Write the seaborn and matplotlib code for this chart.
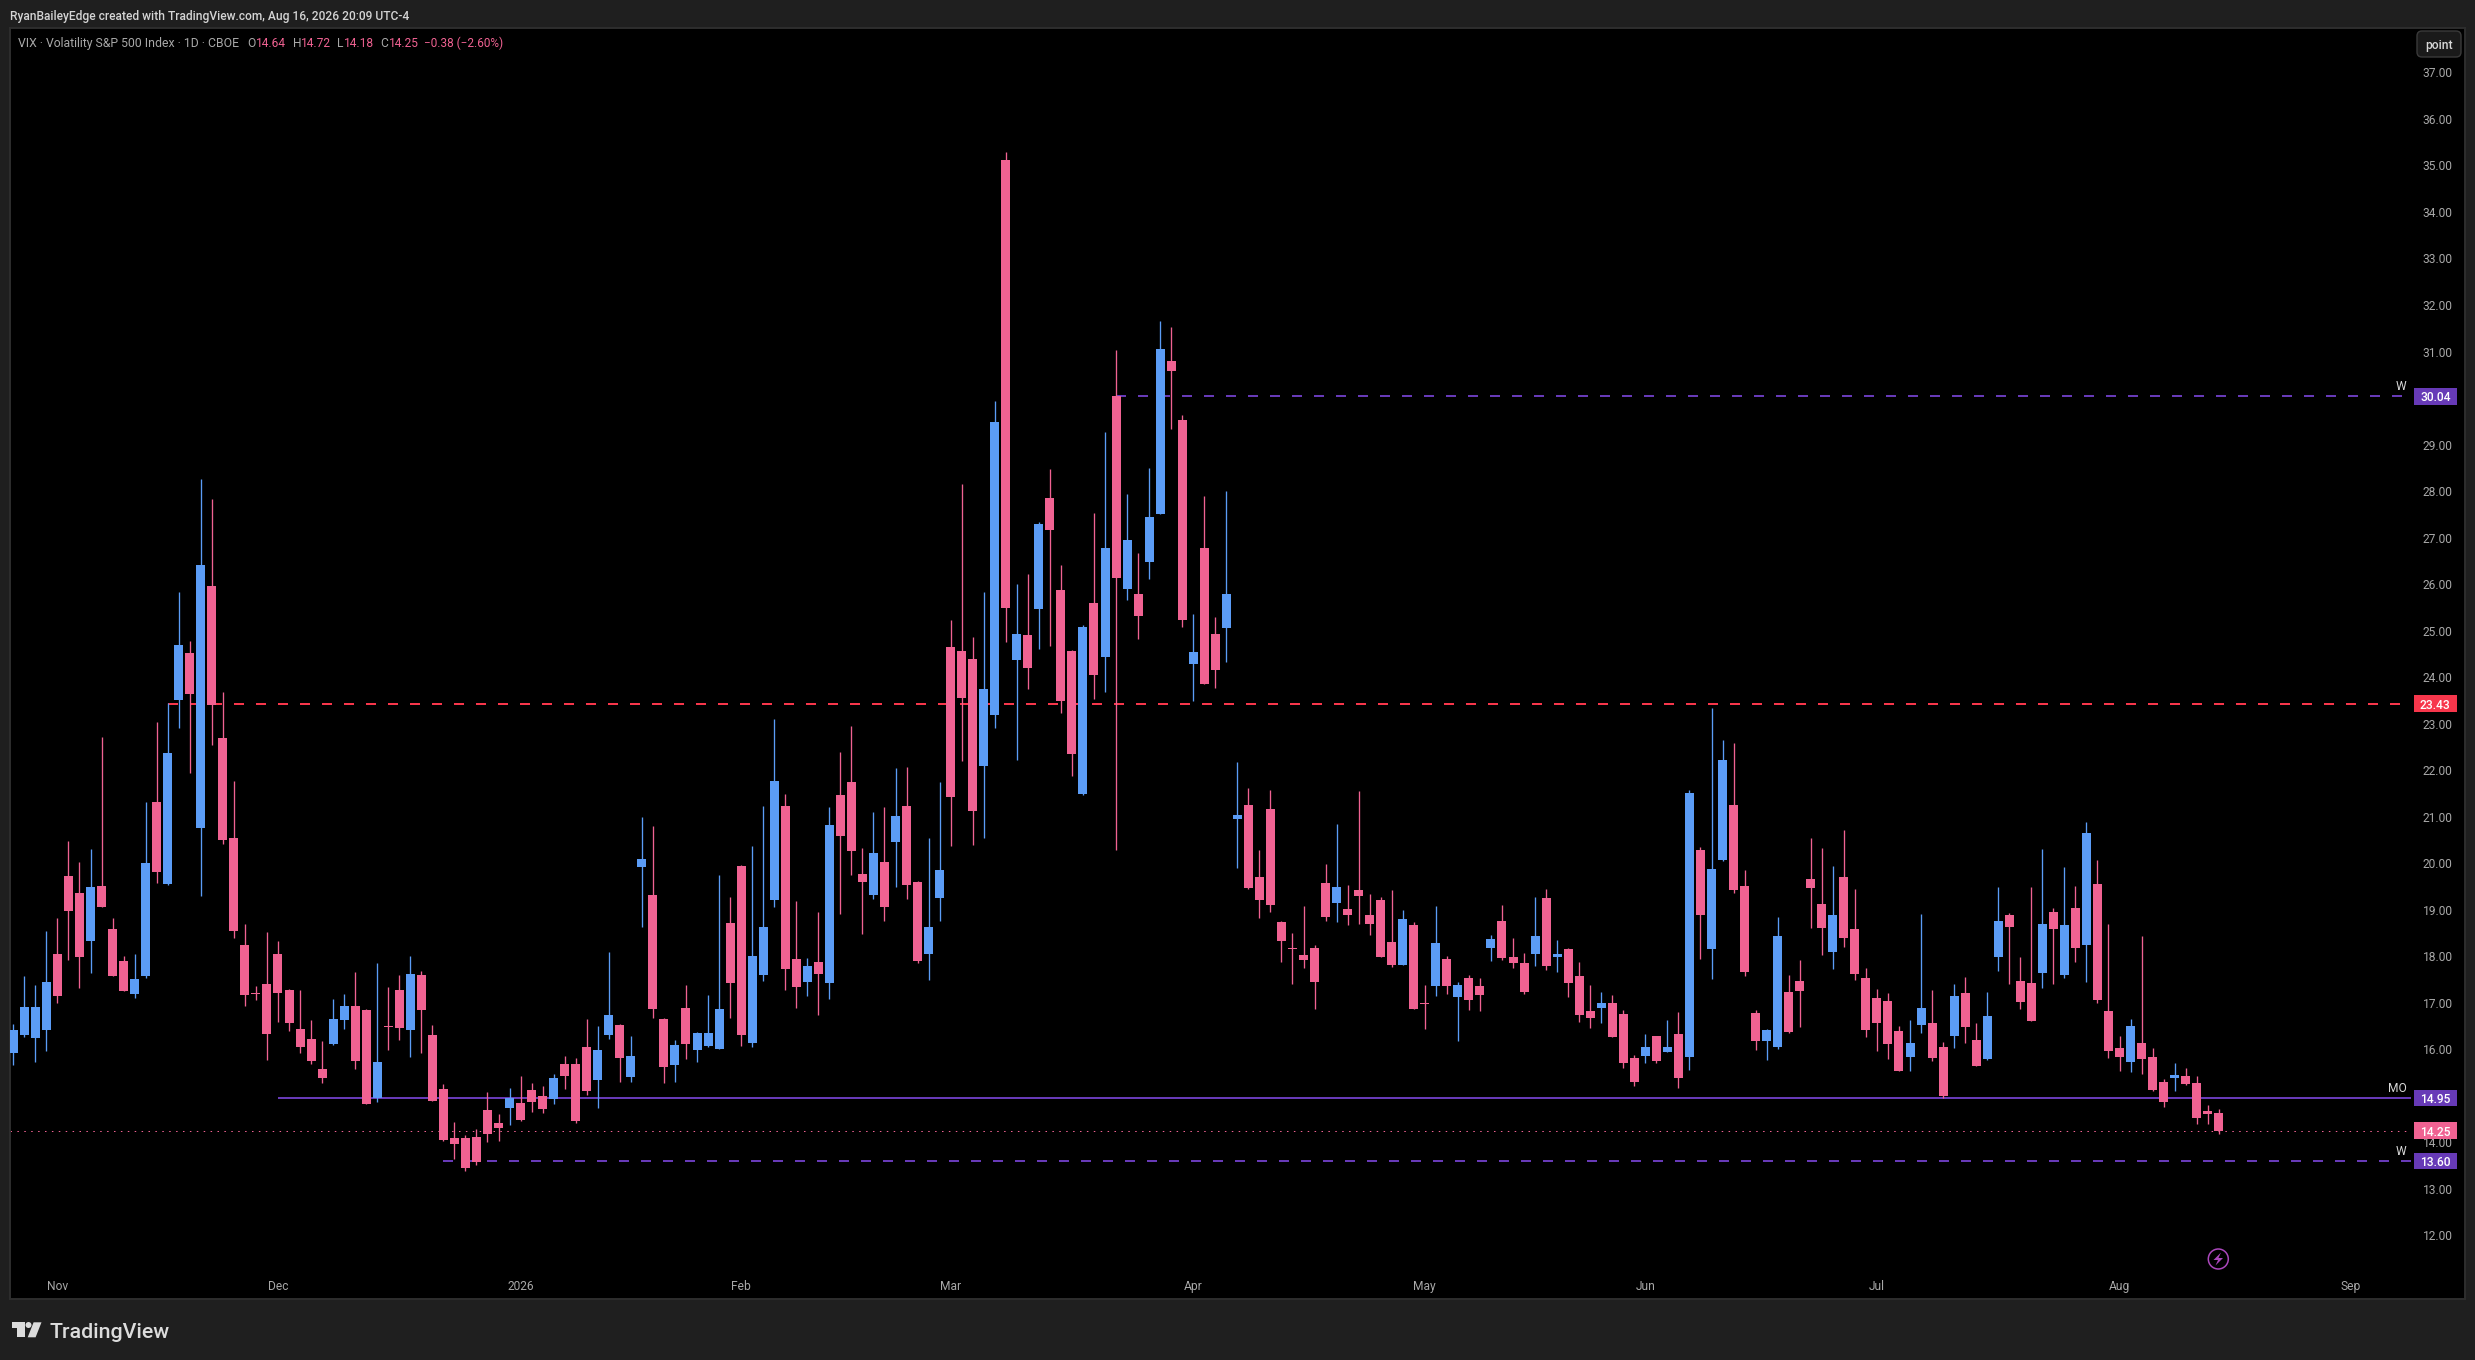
import numpy as np
import pandas as pd
import seaborn as sns
import matplotlib
matplotlib.use("Agg")
import matplotlib.pyplot as plt
from matplotlib.patches import Circle, Polygon, Rectangle, FancyBboxPatch
from matplotlib.transforms import Affine2D, blended_transform_factory

# daily VIX candles
opens = [
    15.93,16.31,16.24,16.41,18.05,19.72,19.36,18.33,19.50,18.59,
    17.90,17.19,17.58,21.32,19.56,23.51,24.52,20.76,25.95,22.69,
    20.54,18.24,17.21,17.40,18.05,17.28,16.43,16.22,15.58,16.11,
    16.63,16.93,16.85,14.96,16.50,17.28,16.41,17.60,16.31,15.15,
    14.10,14.10,14.12,14.69,14.41,14.73,14.85,15.13,15.00,14.93,
    15.69,15.69,16.05,15.34,16.31,16.52,15.41,19.92,19.32,16.65,
    15.66,16.89,15.98,16.07,16.01,18.72,19.94,16.14,17.60,19.21,
    21.23,17.94,17.45,17.88,17.43,21.47,21.74,19.77,19.32,20.03,
    20.46,21.23,19.60,18.05,19.25,24.65,24.56,24.39,22.08,23.19,
    35.12,24.36,24.91,25.46,27.85,25.88,24.56,21.49,25.60,24.43,
    30.04,25.90,25.78,26.47,27.50,30.79,29.52,24.28,26.77,24.93,
    25.05,20.95,21.25,19.70,21.17,18.74,18.18,18.03,18.18,19.58,
    19.15,19.02,19.42,18.89,19.21,18.31,17.81,18.67,17.00,17.36,
    17.94,17.12,17.53,17.36,18.18,18.76,17.98,17.86,18.05,19.25,
    17.98,18.16,17.58,16.82,16.89,17.00,16.76,15.81,15.86,16.29,
    15.94,16.33,15.84,20.28,18.16,20.07,21.25,19.51,16.78,16.18,
    16.05,17.23,17.47,19.66,19.12,18.09,19.70,18.59,17.53,17.10,
    17.04,16.39,15.84,16.52,16.57,16.05,16.29,17.21,16.20,15.79,
    17.98,18.89,17.47,17.43,17.64,18.95,17.60,19.04,18.24,19.55,
    16.82,16.03,15.73,16.14,15.84,15.30,15.38,15.43,15.28,14.67,14.64,
]
closes = [
    16.41,16.91,16.91,17.44,17.15,18.97,17.98,19.48,19.06,17.58,
    17.25,17.52,20.00,19.81,22.37,24.69,23.64,26.41,23.40,20.50,
    18.55,17.17,17.18,16.33,17.21,16.57,16.05,15.74,15.38,16.65,
    16.93,15.74,14.83,15.72,16.48,16.45,17.62,16.85,14.89,14.05,
    13.96,13.45,13.58,14.18,14.30,14.95,14.48,14.87,14.72,15.38,
    15.43,14.46,15.10,15.98,16.74,15.81,15.86,20.09,16.87,15.62,
    16.09,16.11,16.35,16.35,16.87,17.43,16.31,18.01,18.63,21.77,
    17.73,17.34,17.79,17.62,20.82,20.59,20.26,19.60,20.22,19.06,
    21.02,19.53,17.90,18.63,19.85,21.43,23.55,21.12,23.74,29.48,
    25.48,24.93,24.20,27.29,27.16,23.49,22.34,25.07,24.04,26.77,
    26.13,26.95,25.31,27.44,31.05,30.58,25.23,24.55,23.85,24.16,
    25.78,21.04,19.47,19.21,19.10,18.33,18.16,17.92,17.45,18.84,
    19.49,18.89,19.30,18.69,17.98,17.81,18.80,16.87,16.97,18.29,
    17.36,17.38,17.06,17.17,18.37,17.96,17.86,17.23,18.44,17.79,
    18.05,17.43,16.74,16.67,17.00,16.27,15.71,15.30,16.05,15.75,
    16.05,15.38,21.51,18.89,19.88,22.22,19.42,17.66,16.18,16.42,
    18.44,16.37,17.25,19.47,18.61,18.89,18.39,17.62,16.42,16.57,
    16.11,15.53,16.14,16.89,15.81,14.99,17.15,16.48,15.64,16.72,
    18.76,18.63,17.02,16.61,18.69,18.58,18.67,18.18,20.65,17.06,
    15.96,15.84,16.50,15.79,15.13,14.87,15.45,15.25,14.52,14.61,14.25,
]
highs = [
    16.54,17.58,17.39,18.55,18.82,20.47,20.03,20.31,22.71,18.82,
    18.00,18.05,21.32,23.04,23.44,25.83,24.78,28.26,27.83,23.68,
    21.77,18.69,17.36,18.53,18.33,17.30,17.28,16.63,16.18,17.08,
    17.19,17.66,16.87,17.86,17.34,17.60,18.00,17.68,16.52,15.25,
    14.44,14.16,14.28,15.08,14.61,15.17,15.43,15.28,15.21,15.47,
    15.86,15.81,16.65,16.50,18.09,16.54,16.29,20.99,20.80,16.67,
    16.20,17.38,16.37,17.17,19.75,19.27,19.96,20.37,21.23,23.10,
    21.49,19.19,17.96,18.95,21.21,22.39,22.95,20.33,21.10,21.21,
    22.05,22.07,19.62,20.54,21.74,25.23,28.15,24.87,25.82,29.94,
    35.29,26.00,26.22,27.33,28.47,26.41,24.58,25.11,27.52,29.27,
    31.03,27.94,26.67,28.49,31.66,31.52,29.64,25.36,27.90,25.29,
    28.00,22.18,21.62,20.29,21.57,18.76,18.50,19.08,18.24,19.98,
    20.84,19.53,21.55,19.34,19.27,19.42,19.00,18.74,17.38,19.08,
    18.01,17.45,17.60,17.53,18.46,19.10,18.39,18.07,19.27,19.45,
    18.35,18.18,17.88,17.38,17.23,17.17,16.85,15.88,16.33,16.29,
    16.63,16.80,21.57,20.35,23.34,22.65,22.59,19.85,16.85,16.44,
    18.84,17.60,17.92,20.54,20.33,19.94,20.71,19.45,17.75,17.30,
    17.21,16.50,16.63,18.91,17.27,16.16,17.40,17.55,16.57,17.23,
    19.49,18.93,17.98,19.49,20.31,19.04,19.92,19.51,20.89,20.07,
    18.69,16.29,16.65,18.44,16.03,15.36,15.71,15.60,15.43,14.80,14.72,
]
lows = [
    15.67,16.27,15.73,15.97,17.00,17.91,17.31,17.65,19.06,17.58,
    17.25,17.11,17.53,19.57,19.54,22.91,21.93,19.29,22.55,20.42,
    18.40,16.94,17.05,15.77,16.58,16.40,15.93,15.69,15.28,16.09,
    16.44,15.57,14.83,14.86,15.99,16.19,15.83,15.93,14.89,14.02,
    13.65,13.39,13.52,14.00,14.03,14.38,14.46,14.65,14.63,14.82,
    15.15,14.42,15.02,14.74,16.22,15.30,15.30,18.63,16.67,15.28,
    15.30,15.79,15.73,16.05,16.01,16.67,16.07,16.05,17.47,19.06,
    17.27,16.89,17.15,16.74,17.08,18.91,19.75,18.48,19.23,18.76,
    19.49,19.23,17.86,17.49,18.76,20.37,22.19,20.40,20.54,22.91,
    24.76,22.21,23.74,24.60,24.68,23.23,21.88,21.47,23.53,23.69,
    20.28,25.65,24.81,26.11,27.50,29.34,25.07,23.49,23.85,23.76,
    24.33,19.90,19.45,18.82,18.95,17.88,17.40,17.75,16.87,18.76,
    18.74,18.67,18.69,18.46,17.98,17.77,17.81,16.87,16.44,17.15,
    17.19,16.18,16.85,16.82,17.90,17.92,17.75,17.19,17.79,17.70,
    17.66,17.12,16.59,16.46,16.57,16.27,15.60,15.21,15.71,15.71,
    15.94,15.17,15.56,17.94,17.51,20.05,19.36,17.58,15.99,15.77,
    16.01,16.35,16.48,18.61,18.03,17.73,18.20,17.49,16.27,15.96,
    15.79,15.53,15.53,16.35,15.75,14.95,16.03,16.14,15.64,15.77,
    17.68,17.40,16.87,16.61,17.32,17.40,17.53,17.88,17.45,17.00,
    15.81,15.53,15.51,15.47,15.10,14.76,15.10,15.23,14.39,14.39,14.18,
]

# horizontal levels
level_prices = [30.04, 23.43, 14.95, 13.60]
level_start_bars = [100, 14, 24, 39]
level_tags = ["W", "", "MO", "W"]

# axis labels
price_ticks = list(range(12, 38))
month_labels = ["Nov", "Dec", "2026", "Feb", "Mar", "Apr", "May", "Jun", "Jul", "Aug", "Sep"]
month_bars = [4, 24, 46, 66, 85, 107, 128, 148, 169, 191, 212]

UP = "#5B9CF6"
DOWN = "#F06292"
PURPLE = "#673AB7"
RED = "#F7364B"
W, H = 2475, 1360

sns.set_theme(style="dark", rc={"axes.facecolor": "#000000", "figure.facecolor": "#1F1F1F",
                                "lines.solid_capstyle": "butt", "lines.dash_capstyle": "butt"})
plt.rcParams["font.family"] = ["Roboto", "DejaVu Sans"]

candles = pd.DataFrame({"bar": np.arange(len(opens)), "open": opens, "high": highs, "low": lows, "close": closes})
candles["top"] = candles[["open", "close"]].max(axis=1)
candles["bottom"] = candles[["open", "close"]].min(axis=1)
candles["body"] = candles["top"] - candles["bottom"]
candles["direction"] = np.where(candles["close"] > candles["open"], "up", "down")

fig = plt.figure(figsize=(W / 100, H / 100), dpi=100)
ax = fig.add_axes([10 / W, 1 - 1299 / H, 2455 / W, 1271.5 / H])
px = Affine2D().scale(1, -1).translate(0, H)   # figure pixels from the top left corner

# levels sit behind the candles
line_end = 217.4
level_colors = [PURPLE, RED, PURPLE, PURPLE]
level_styles = [(0, (5, 6)), (0, (5, 6)), "-", (0, (5, 6))]
for price, start, color, style in zip(level_prices, level_start_bars, level_colors, level_styles):
    sns.lineplot(x=[start, line_end], y=[price, price], color=color, linewidth=1.44, linestyle=style,
                 ax=ax, zorder=1, legend=False)
sns.lineplot(x=[-0.3, line_end], y=[closes[-1], closes[-1]], color=DOWN, linewidth=0.72,
             linestyle=(0, (1.5, 5.4)), ax=ax, zorder=1, legend=False)

# wicks
wicks = candles.melt(id_vars=["bar", "direction"], value_vars=["low", "high"], value_name="price")
sns.lineplot(data=wicks, x="bar", y="price", hue="direction", units="bar", estimator=None,
             palette={"up": UP, "down": DOWN}, linewidth=0.95, ax=ax, zorder=3, legend=False)

# bodies
for direction, color in [("up", UP), ("down", DOWN)]:
    sub = candles[candles["direction"] == direction]
    sns.barplot(x=sub["bar"].to_numpy(), y=sub["body"].to_numpy(), bottom=sub["bottom"].to_numpy(),
                native_scale=True, width=0.816, color=color, saturation=1, linewidth=0,
                errorbar=None, ax=ax, zorder=4)

ax.set_xlim(-0.302, 222.33)
ax.set_ylim(10.632, 37.965)
ax.set_xlabel("")
ax.set_ylabel("")
ax.set_axisbelow(True)
ax.grid(False)
for spine in ax.spines.values():
    spine.set_color("#2E2E2E")
    spine.set_linewidth(1.4)

ax.yaxis.tick_right()
ax.set_yticks(price_ticks)
ax.set_yticklabels([f"{p:.2f}" for p in price_ticks])
ax.tick_params(axis="y", length=0, pad=-30.6, labelsize=8.64, labelcolor="#A8A8A8")
ax.set_xticks(month_bars)
ax.set_xticklabels(month_labels)
ax.tick_params(axis="x", length=0, pad=-13.5, labelsize=8.64, labelcolor="#A8A8A8")

# price tags on the right
tag_tf = blended_transform_factory(ax.transAxes, ax.transData)
tag_x0 = (2414 - 10) / 2455
tag_w = 42.7 / 2455
tag_h = 16.7 / 46.52
tag_prices = level_prices + [closes[-1]]
tag_colors = level_colors + [DOWN]
for price, color in zip(tag_prices, tag_colors):
    ax.add_patch(Rectangle((tag_x0, price - tag_h / 2), tag_w, tag_h, transform=tag_tf,
                           facecolor=color, edgecolor="none", zorder=6))
    ax.text(tag_x0 + tag_w / 2, price, f"{price:.2f}", transform=tag_tf, ha="center", va="center_baseline",
            color="white", fontsize=8.64, fontweight="medium", zorder=7)
for price, tag in zip(level_prices, level_tags):
    if tag:
        ax.annotate(tag, xy=(2406.5 / W, price), xycoords=blended_transform_factory(fig.transFigure, ax.transData),
                    xytext=(0, 7), textcoords="offset points", ha="right", va="center",
                    color="#D8D8D8", fontsize=8.64, zorder=7)

# header text
fig.text(10, 15, "RyanBaileyEdge created with TradingView.com, Aug 16, 2026 20:09 UTC-4", transform=px,
         color="#D4D4D4", fontsize=8.64, fontweight="medium", va="center_baseline")
LEGEND_GREY = "#A8A8A8"
fig.text(18, 42, "VIX · Volatility S&P 500 Index · 1D · CBOE", transform=px, color=LEGEND_GREY,
         fontsize=8.8, va="center_baseline")
for letter, x_l, value, x_v in [("O", 247.4, opens[-1], 256), ("H", 292.5, highs[-1], 301),
                                ("L", 337, lows[-1], 344), ("C", 380, closes[-1], 388.5)]:
    fig.text(x_l, 42, letter, transform=px, color=LEGEND_GREY, fontsize=8.64, va="center_baseline")
    fig.text(x_v, 42, f"{value:.2f}", transform=px, color=DOWN, fontsize=8.64, va="center_baseline")
fig.text(424, 42, "−0.38 (−2.60%)", transform=px, color=DOWN, fontsize=8.5, va="center_baseline")

# "point" button
fig.add_artist(FancyBboxPatch((2419, 33), 40, 22, boxstyle="round,pad=2,rounding_size=5", transform=px,
                              facecolor="#1A1A1A", edgecolor="#3A3A3A", linewidth=1))
fig.text(2439, 44, "point", transform=px, color="#D8D8D8", fontsize=8.64, fontweight="medium",
         ha="center", va="center_baseline")

# lightning badge
fig.add_artist(Circle((2218.3, 1259), 10, transform=px, facecolor="none", edgecolor="#AB47BC", linewidth=1.1))
fig.add_artist(Polygon([(2221, 1252.5), (2213.5, 1260), (2218, 1260), (2215.5, 1265.5), (2223, 1258), (2218.5, 1258)],
                       transform=px, facecolor="#AB47BC", edgecolor="none"))

# logo
LOGO = "#DCDCDC"
fig.add_artist(Polygon([(11.9, 1322.3), (24.5, 1322.3), (24.5, 1337.3), (17.4, 1337.3), (17.4, 1328.3), (11.9, 1328.3)],
                       transform=px, facecolor=LOGO, edgecolor="none"))
fig.add_artist(Circle((28.5, 1325), 3, transform=px, facecolor=LOGO, edgecolor="none"))
fig.add_artist(Polygon([(33.6, 1322.3), (41.5, 1322.3), (35.6, 1337.3), (27.7, 1337.3)], transform=px,
                       facecolor=LOGO, edgecolor="none"))
fig.text(49, 1330, "TradingView", transform=px, color=LOGO, fontsize=15.4, fontweight="medium",
         va="center_baseline")

fig.savefig("out.png", dpi=100, facecolor=fig.get_facecolor())
